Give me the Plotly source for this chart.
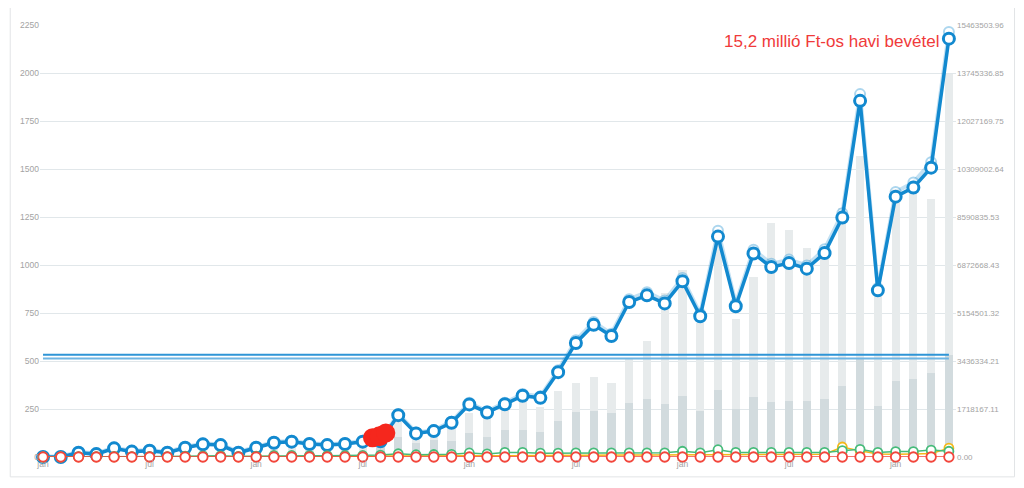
import plotly.graph_objects as go
import pandas as pd

# ---- data ----
months = [d.strftime("%Y-%m") for d in pd.date_range("2016-01-01", periods=52, freq="MS")]

tick_months = ["2016-01", "2016-07", "2017-01", "2017-07", "2018-01", "2018-07", "2019-01", "2019-07", "2020-01"]
tick_text = ["jan", "júl", "jan", "júl", "jan", "júl", "jan", "júl", "jan"]

left_ticks = [0, 250, 500, 750, 1000, 1250, 1500, 1750, 2000, 2250]
right_tick_labels = ["0.00", "1718167.11", "3436334.21", "5154501.32", "6872668.43",
                     "8590835.53", "10309002.64", "12027169.75", "13745336.85", "15463503.96"]

main_series = [0, 0, 22, 15, 45, 28, 33, 22, 48, 66, 62, 22, 48, 74, 80, 68, 62, 68, 80, 82,
               218, 123, 135, 178, 274, 232, 275, 319, 308, 442, 594, 689, 630, 807, 842, 800,
               915, 733, 1148, 785, 1060, 989, 1010, 981, 1062, 1247, 1855, 868, 1356, 1403, 1507, 2179]

ghost_series = [2, 3, 26, 19, 49, 32, 37, 26, 52, 70, 66, 26, 52, 78, 85, 72, 66, 72, 85, 87,
                224, 128, 140, 184, 282, 238, 283, 328, 316, 452, 608, 703, 642, 822, 858, 815,
                932, 746, 1178, 800, 1080, 1006, 1028, 998, 1082, 1270, 1890, 880, 1380, 1430, 1535, 2213]

green_series = [0, 0, 2, 2, 3, 2, 3, 2, 4, 6, 6, 3, 4, 8, 8, 7, 7, 8, 8, 10,
                17, 12, 13, 14, 21, 16, 24, 24, 20, 20, 22, 22, 22, 22, 22, 22,
                30, 22, 38, 24, 24, 24, 24, 24, 24, 33, 40, 24, 28, 28, 36, 30]

yellow_series = [0, 0, 1, 1, 1, 1, 1, 1, 2, 2, 2, 1, 2, 3, 3, 3, 3, 3, 3, 5,
                 6, 5, 6, 6, 7, 6, 7, 7, 7, 9, 10, 10, 10, 11, 11, 11,
                 12, 11, 13, 12, 13, 13, 13, 13, 14, 52, 32, 16, 14, 16, 18, 46]

red_series = [0] * 52

target_levels = [533, 513]

revenue_total = [0, 0, 0, 0, 0, 0, 0, 0, 107000, 214000, 214000, 71000, 107000, 357000, 357000,
                 321000, 321000, 357000, 393000, 1036000, 1393000, 643000, 714000, 1071000,
                 1571000, 1428000, 1750000, 2036000, 1786000, 2357000, 2643000, 2857000, 2643000,
                 3500000, 4143000, 5857000, 6678000, 4785000, 7892000, 4928000, 6428000, 8392000,
                 8142000, 7464000, 7392000, 8928000, 10785000, 5750000, 9607000, 9892000, 9250000,
                 13714000]

revenue_part = [0, 0, 0, 0, 0, 0, 0, 0, 36000, 107000, 107000, 36000, 36000, 143000, 143000,
                107000, 107000, 143000, 179000, 714000, 714000, 500000, 607000, 571000,
                857000, 714000, 964000, 964000, 893000, 1286000, 1607000, 1643000, 1571000,
                1928000, 2071000, 1893000, 2178000, 1643000, 2393000, 1714000, 2143000, 1964000,
                2000000, 2000000, 2071000, 2536000, 3536000, 1821000, 2714000, 2786000, 3000000,
                3643000]

# hand-drawn red mark near July of the second year (month index, value)
blob_x = [18.55, 18.95, 19.3]
blob_values = [100, 108, 125]

note_text = "15,2 millió Ft-os havi bevétel"

# ---- styles ----
BLUE = "#1289cf"
FONT = "Liberation Sans, Arial, sans-serif"
TICK_COLOR = "#a3a3a3"

x_idx = list(range(len(months)))
tick_idx = [months.index(m) for m in tick_months]

fig = go.Figure()

# bars on the base (right, Ft) axis so that every line is drawn above them
fig.add_trace(go.Bar(x=x_idx, y=revenue_total, yaxis="y", marker_color="#e7ebec",
                     marker_line_width=0, width=0.46, hoverinfo="skip"))
fig.add_trace(go.Bar(x=x_idx, y=revenue_part, yaxis="y", marker_color="#d2dbde",
                     marker_line_width=0, width=0.46, hoverinfo="skip"))

for lvl, col in zip(target_levels, ["#2f95d6", "#6fb5e3"]):
    fig.add_trace(go.Scatter(x=[x_idx[0], x_idx[-1]], y=[lvl, lvl], yaxis="y2", mode="lines",
                             line=dict(color=col, width=2), cliponaxis=False))

fig.add_trace(go.Scatter(x=x_idx, y=ghost_series, yaxis="y2", mode="lines+markers",
                         line=dict(color="rgba(18,137,207,0.25)", width=4),
                         marker=dict(size=10, color="rgba(255,255,255,0.6)",
                                     line=dict(color="rgba(18,137,207,0.35)", width=2)),
                         cliponaxis=False))
fig.add_trace(go.Scatter(x=x_idx, y=main_series, yaxis="y2", mode="lines+markers",
                         line=dict(color=BLUE, width=3.5),
                         marker=dict(size=11, color="white", line=dict(color=BLUE, width=3)),
                         cliponaxis=False))
fig.add_trace(go.Scatter(x=x_idx, y=yellow_series, yaxis="y2", mode="lines+markers",
                         line=dict(color="#f5b819", width=1.5),
                         marker=dict(size=9, color="white", line=dict(color="#f5b819", width=1.8)),
                         cliponaxis=False))
fig.add_trace(go.Scatter(x=x_idx, y=green_series, yaxis="y2", mode="lines+markers",
                         line=dict(color="#46bb7a", width=1.5),
                         marker=dict(size=9, color="white", line=dict(color="#46bb7a", width=1.8)),
                         cliponaxis=False))
fig.add_trace(go.Scatter(x=x_idx, y=red_series, yaxis="y2", mode="lines+markers",
                         line=dict(color="#f2463c", width=1.5),
                         marker=dict(size=9.5, color="white", line=dict(color="#f2463c", width=1.8)),
                         cliponaxis=False))
fig.add_trace(go.Scatter(x=blob_x, y=blob_values, yaxis="y2", mode="markers",
                         marker=dict(size=[19, 20, 19], color="#f5271d", opacity=1, line=dict(width=0)),
                         cliponaxis=False))

fig.add_annotation(x=x_idx[-1], y=2162, xref="x", yref="y2", text=note_text,
                   showarrow=False, xanchor="right", yanchor="middle", xshift=-8,
                   font=dict(family=FONT, size=17, color="#f03a3a"))

# outer frame (paper coords)
fig.add_shape(type="rect", xref="paper", yref="paper", x0=-0.0325, x1=1.0639, y0=-0.046, y1=1.046,
              line=dict(color="#e2e4e6", width=1), fillcolor="rgba(0,0,0,0)", layer="below")

fig.update_layout(
    width=1016, height=480,
    margin=dict(l=25, r=68, t=16, b=31),
    paper_bgcolor="white", plot_bgcolor="white",
    showlegend=False, barmode="overlay", bargap=0,
    font=dict(family=FONT, color=TICK_COLOR),
    xaxis=dict(range=[-0.17, 51.4], showgrid=False, zeroline=False, showline=False, ticks="",
               tickmode="array", tickvals=tick_idx, ticktext=tick_text,
               tickfont=dict(size=8.5, color=TICK_COLOR, family=FONT)),
    yaxis=dict(range=[0, float(right_tick_labels[-1])], side="right",
               tickmode="array", tickvals=[float(t) for t in right_tick_labels],
               ticktext=right_tick_labels, showgrid=True, gridcolor="#e1e7ea", gridwidth=1,
               zeroline=False, showline=False, ticks="",
               tickfont=dict(size=8, color=TICK_COLOR, family=FONT)),
    yaxis2=dict(range=[0, 2250], overlaying="y", side="left", tickmode="array", tickvals=left_ticks,
                showgrid=False, zeroline=False, showline=False,
                ticks="", tickfont=dict(size=8.5, color=TICK_COLOR, family=FONT)),
)

fig.write_html("out.html")
